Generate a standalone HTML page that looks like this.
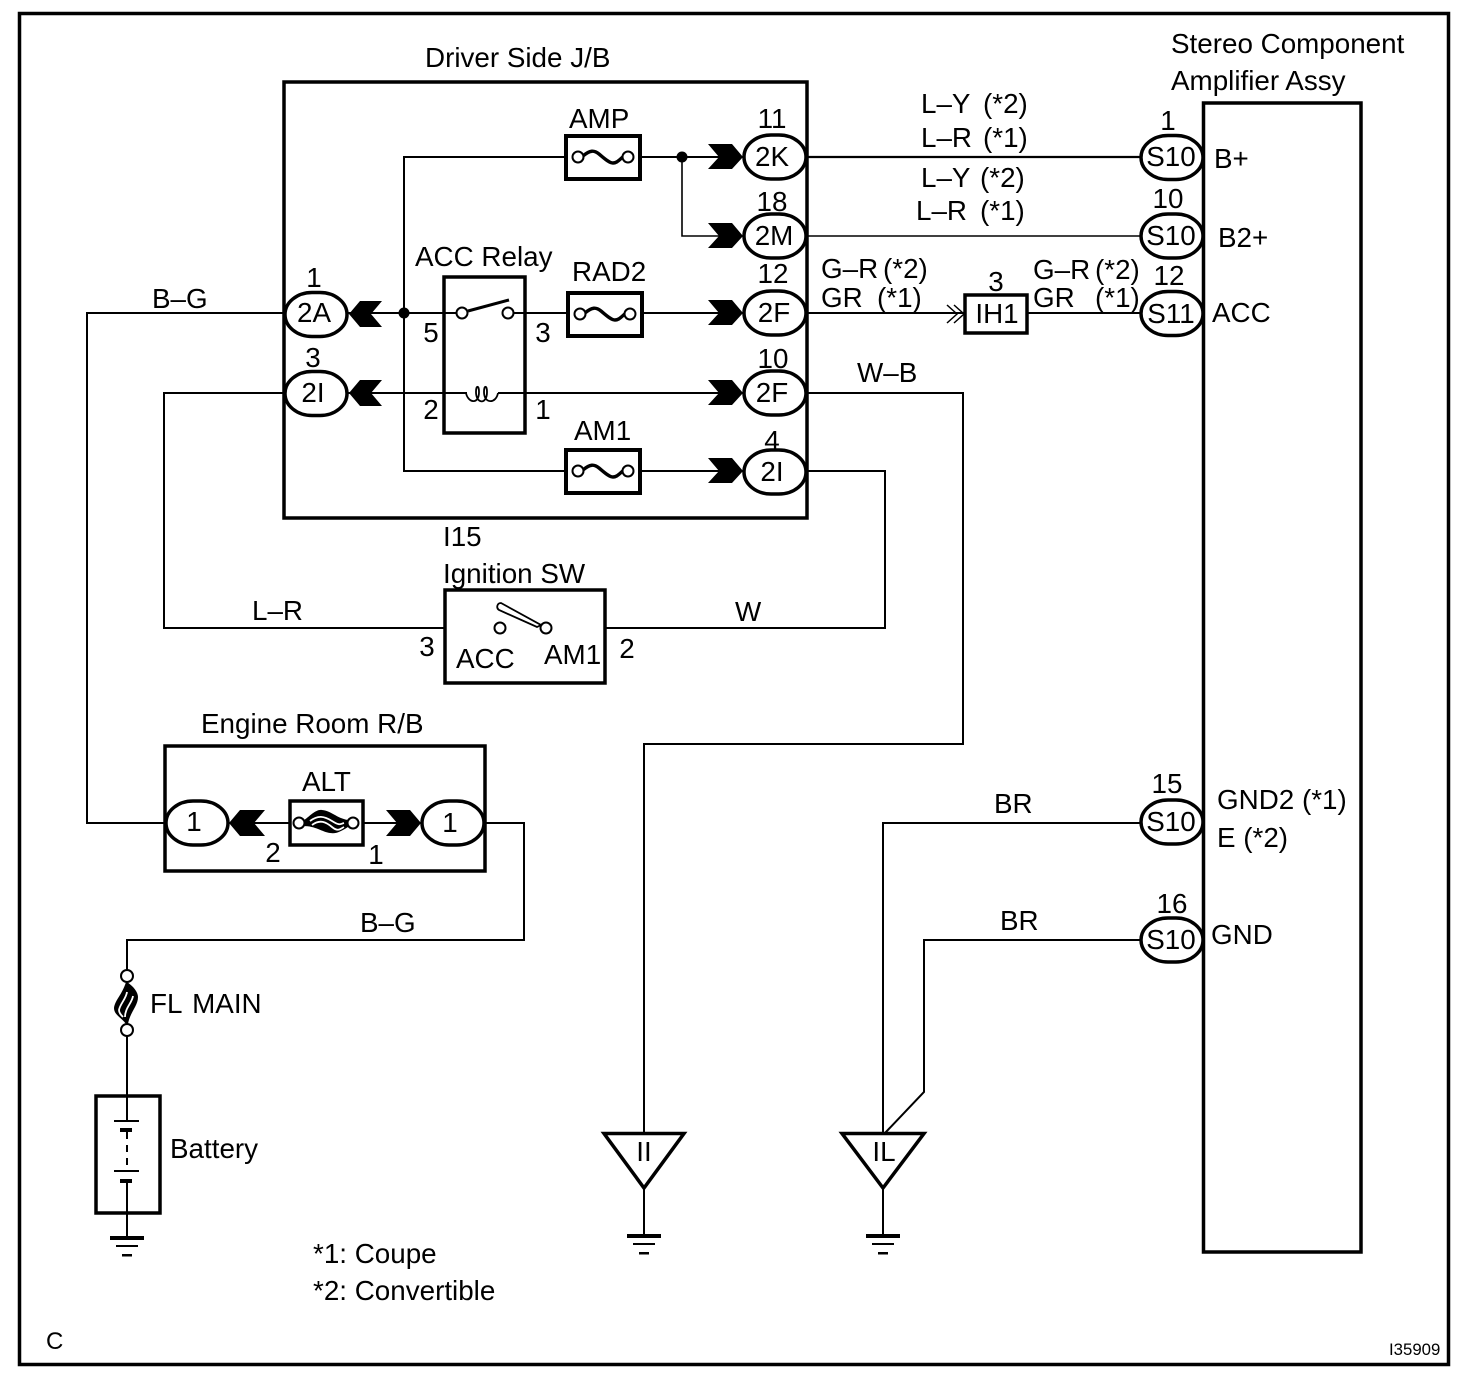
<!DOCTYPE html>
<html><head><meta charset="utf-8"><style>
html,body{margin:0;padding:0;background:#fff}
svg{display:block}
text{font-family:"Liberation Sans",sans-serif;font-size:27.8px;fill:#000}
.c{text-anchor:middle}
</style></head><body>
<svg width="1472" height="1384" viewBox="0 0 1472 1384" xmlns="http://www.w3.org/2000/svg">
<defs>
<rect id="pill" x="-31" y="-22" width="62" height="44" rx="27" ry="22" fill="#fff" stroke="#000" stroke-width="3.5"/>
<g id="fuse">
<rect x="-37" y="-21" width="74" height="43" fill="#fff" stroke="#000" stroke-width="4"/>
<path d="M-20-1C-13-7-9-7-4-3S6 6 10 6 16 3 21-1" fill="none" stroke="#000" stroke-width="3.4"/>
<circle cx="-25" cy="0" r="5.500" fill="#fff" stroke="#000" stroke-width="2"/>
<circle cx="25" cy="0" r="5.500" fill="#fff" stroke="#000" stroke-width="2"/>
</g>
<g id="gnd" fill="#000"><rect x="-17" y="0" width="34" height="4"/><rect x="-11" y="9" width="22" height="2"/><rect x="-5" y="18" width="10" height="2.500"/></g>
</defs>
<rect width="1472" height="1384" fill="#fff"/>
<rect x="19.500" y="13.500" width="1429" height="1351" fill="none" stroke="#000" stroke-width="3.5"/>
<rect x="284" y="82" width="523" height="436" fill="none" stroke="#000" stroke-width="3.5"/>
<rect x="1203.500" y="103" width="157.500" height="1149" fill="none" stroke="#000" stroke-width="3.5"/>
<rect x="165" y="746" width="320" height="125" fill="none" stroke="#000" stroke-width="3.5"/>
<rect x="445" y="590" width="160" height="93" fill="none" stroke="#000" stroke-width="3.5"/>
<rect x="444" y="277" width="81" height="156" fill="none" stroke="#000" stroke-width="3.5"/>

<g fill="none" stroke="#000" stroke-width="2">
<path d="M743 157H404V471H743"/>
<path d="M284 313H743"/>
<path d="M284 393H743"/>
<path d="M682 157V236H743" stroke-width="1.6"/>
<path d="M807 157H1140" stroke-width="2.200"/>
<path d="M807 236H1140" stroke-width="1.5"/>
<path d="M807 313H964M1028 313H1140"/>
<path d="M807 393H963V744H644V1133"/>
<path d="M807 471H885V628H606M445 628H164V393H284"/>
<path d="M284 313H87V823H165"/>
<path d="M1140 823H883V1133"/>
<path d="M1140 940H924V1092L885 1133" />
<path d="M165 823H485H524V940H127V975M127 1030V1096"/>
<path d="M127 1213V1236M644 1188V1236M883 1188V1236"/>
</g>
<circle cx="404" cy="313" r="5.500"/><circle cx="682" cy="157" r="5.500"/>

<path d="M743 157L732 144H708L719 157 708 169H732Z"/>
<path d="M743 236L732 223H708L719 236 708 248H732Z"/>
<path d="M743 313L732 300H708L719 313 708 325H732Z"/>
<path d="M743 393L732 380H708L719 393 708 405H732Z"/>
<path d="M743 471L732 458H708L719 471 708 483H732Z"/>
<path d="M421 823L410 810H386L397 823 386 836H410Z"/>
<path d="M229 823L240 810H265L254 823 265 836H240Z"/>
<path d="M349 314L360 301H382L371 314 382 327H360Z"/>
<path d="M349 393L360 380H382L371 393 382 406H360Z"/>

<use href="#pill" x="316" y="314.500"/><use href="#pill" x="316" y="393.500"/>
<use href="#pill" x="775" y="157"/><use href="#pill" x="775" y="236"/><use href="#pill" x="775" y="313"/><use href="#pill" x="775" y="393"/><use href="#pill" x="775" y="472"/>
<use href="#pill" x="1172" y="157.500"/><use href="#pill" x="1172" y="236"/><use href="#pill" x="1172" y="313.500"/><use href="#pill" x="1172" y="822"/><use href="#pill" x="1172" y="940"/>
<use href="#pill" x="197" y="823"/><use href="#pill" x="453" y="823"/>

<use href="#fuse" x="603" y="157"/><use href="#fuse" x="605" y="314"/><use href="#fuse" x="603" y="471"/>

<rect x="965" y="295" width="62" height="38" fill="#fff" stroke="#000" stroke-width="3.5"/>
<path d="M947 305L957 314 947 323M954 305L964 314 954 323" fill="none" stroke="#000" stroke-width="1.5"/>

<!-- ACC relay -->
<rect x="458" y="305" width="56" height="16" fill="#fff"/>
<circle cx="462" cy="313" r="5.500" fill="#fff" stroke="#000" stroke-width="2"/>
<circle cx="508" cy="313" r="5.500" fill="#fff" stroke="#000" stroke-width="2"/>
<path d="M468 311L509 300" stroke="#000" stroke-width="3"/>
<rect x="467" y="386" width="31" height="12" fill="#fff"/>
<path d="M466 393C468 403 479 405 479 392 479 385 476 385 476 392 476 404 487 405 487 392 487 385 484 385 484 392 484 404 496 404 498 393" fill="none" stroke="#000" stroke-width="1.8"/>

<!-- ignition switch -->
<rect x="496" y="620" width="54" height="16" fill="#fff"/>
<circle cx="500" cy="628" r="5.500" fill="#fff" stroke="#000" stroke-width="2"/>
<circle cx="546" cy="628" r="5.500" fill="#fff" stroke="#000" stroke-width="2"/>
<path d="M501 603L541 625 537 627 499 610C496 608 497 603 501 603Z" fill="#fff" stroke="#000" stroke-width="1.8"/>

<!-- ALT -->
<rect x="290" y="801" width="73" height="44" fill="#fff" stroke="#000" stroke-width="3.500"/>
<path d="M303 821C310 816 316 809 322 810 332 811 336 818 348 820V827C340 832 336 834 330 833 322 832 316 826 303 826Z" fill="#000"/>
<path d="M310 821C318 815 324 816 332 821S340 824 344 823M312 825C320 819 326 822 332 827S340 829 344 827" fill="none" stroke="#fff" stroke-width="1.800"/>
<circle cx="299" cy="823" r="5.500" fill="#fff" stroke="#000" stroke-width="2"/>
<circle cx="353" cy="823" r="5.500" fill="#fff" stroke="#000" stroke-width="2"/>

<!-- FL MAIN -->
<path d="M127 982C133 986 138 992 138 997 138 1006 130 1012 128 1024H126C122 1018 114 1015 114 1008 115 1000 122 995 126 982Z" fill="#000"/>
<path d="M127 992C126 999 120 1004 119 1010 119 1013 121 1015 123 1017M133 996C132 1003 125 1008 125 1017" fill="none" stroke="#fff" stroke-width="1.800"/>
<circle cx="127" cy="976" r="6" fill="#fff" stroke="#000" stroke-width="2"/>
<circle cx="127" cy="1030" r="6" fill="#fff" stroke="#000" stroke-width="2"/>

<!-- Battery -->
<rect x="96" y="1096" width="64" height="117" fill="none" stroke="#000" stroke-width="3.500"/>
<g stroke="#000" fill="none">
<path d="M127 1096V1120M114 1121H139" stroke-width="2"/>
<path d="M120 1130H132" stroke-width="4"/>
<path d="M127 1132V1170" stroke-width="2" stroke-dasharray="7 6"/>
<path d="M114 1171H139" stroke-width="2"/>
<path d="M120 1181H132" stroke-width="4"/>
<path d="M127 1183V1213" stroke-width="2"/>
</g>

<path d="M604 1133.500H684L644 1188Z" fill="#fff" stroke="#000" stroke-width="3.500"/>
<path d="M842 1133.500H924L883 1188Z" fill="#fff" stroke="#000" stroke-width="3.500"/>
<use href="#gnd" x="644" y="1234"/><use href="#gnd" x="883" y="1234"/><use href="#gnd" x="127" y="1236"/>

<text x="425" y="67">Driver Side J/B</text>
<text x="1171" y="53">Stereo Component</text>
<text x="1171" y="90">Amplifier Assy</text>
<text x="569" y="128">AMP</text>
<text x="572" y="281">RAD2</text>
<text x="574" y="440">AM1</text>
<text x="415" y="266">ACC Relay</text>
<text x="443" y="546">I15</text>
<text x="443" y="583">Ignition SW</text>
<text x="201" y="733">Engine Room R/B</text>
<text x="302" y="791">ALT</text>
<text x="150" y="1013">FL <tspan dx="3">MAIN</tspan></text>
<text x="170" y="1158">Battery</text>
<text x="313" y="1263">*1: Coupe</text>
<text x="313" y="1300">*2: Convertible</text>
<text x="46" y="1349" style="font-size:24px">C</text>
<text x="1389" y="1355" style="font-size:16.800px">I35909</text>

<text x="921" y="113">L–Y</text><text x="983" y="113">(*2)</text>
<text x="921" y="147">L–R</text><text x="983" y="147">(*1)</text>
<text x="921" y="187">L–Y</text><text x="980" y="187">(*2)</text>
<text x="916" y="220">L–R</text><text x="980" y="220">(*1)</text>
<text x="821" y="278">G–R</text><text x="883" y="278">(*2)</text>
<text x="821" y="307">GR</text><text x="877" y="307">(*1)</text>
<text x="1033" y="279">G–R</text><text x="1095" y="279">(*2)</text>
<text x="1033" y="307">GR</text><text x="1095" y="307">(*1)</text>
<text x="857" y="382">W–B</text>
<text x="152" y="308">B–G</text>
<text x="252" y="620">L–R</text>
<text x="735" y="621">W</text>
<text x="360" y="932">B–G</text>
<text x="994" y="813">BR</text>
<text x="1000" y="930">BR</text>

<text class="c" x="314" y="322">2A</text>
<text class="c" x="313" y="402">2I</text>
<text class="c" x="772" y="166">2K</text>
<text class="c" x="774" y="245">2M</text>
<text class="c" x="774" y="322">2F</text>
<text class="c" x="772" y="402">2F</text>
<text class="c" x="772" y="481">2I</text>
<text class="c" x="1171" y="166">S10</text>
<text class="c" x="1171" y="245">S10</text>
<text class="c" x="1171" y="323">S11</text>
<text class="c" x="1171" y="831">S10</text>
<text class="c" x="1171" y="949">S10</text>
<text class="c" x="997" y="323">IH1</text>
<text class="c" x="194" y="831">1</text>
<text class="c" x="450" y="832">1</text>
<text class="c" x="644" y="1161">II</text>
<text class="c" x="884" y="1161">IL</text>

<text class="c" x="314" y="287">1</text>
<text class="c" x="313" y="367">3</text>
<text class="c" x="772" y="128">11</text>
<text class="c" x="772" y="211">18</text>
<text class="c" x="773" y="283">12</text>
<text class="c" x="773" y="368">10</text>
<text class="c" x="772" y="450">4</text>
<text class="c" x="1168" y="130">1</text>
<text class="c" x="1168" y="208">10</text>
<text class="c" x="1169" y="285">12</text>
<text class="c" x="1167" y="793">15</text>
<text class="c" x="1172" y="913">16</text>
<text class="c" x="996" y="291">3</text>
<text class="c" x="431" y="342">5</text>
<text class="c" x="543" y="342">3</text>
<text class="c" x="431" y="419">2</text>
<text class="c" x="543" y="419">1</text>
<text class="c" x="427" y="656">3</text>
<text class="c" x="627" y="658">2</text>
<text class="c" x="273" y="862">2</text>
<text class="c" x="376" y="864">1</text>

<text x="456" y="668">ACC</text>
<text x="544" y="664">AM1</text>
<text x="1214" y="168">B+</text>
<text x="1218" y="247">B2+</text>
<text x="1212" y="322">ACC</text>
<text x="1217" y="809">GND2 (*1)</text>
<text x="1217" y="847">E (*2)</text>
<text x="1211" y="944">GND</text>
</svg>
</body></html>
